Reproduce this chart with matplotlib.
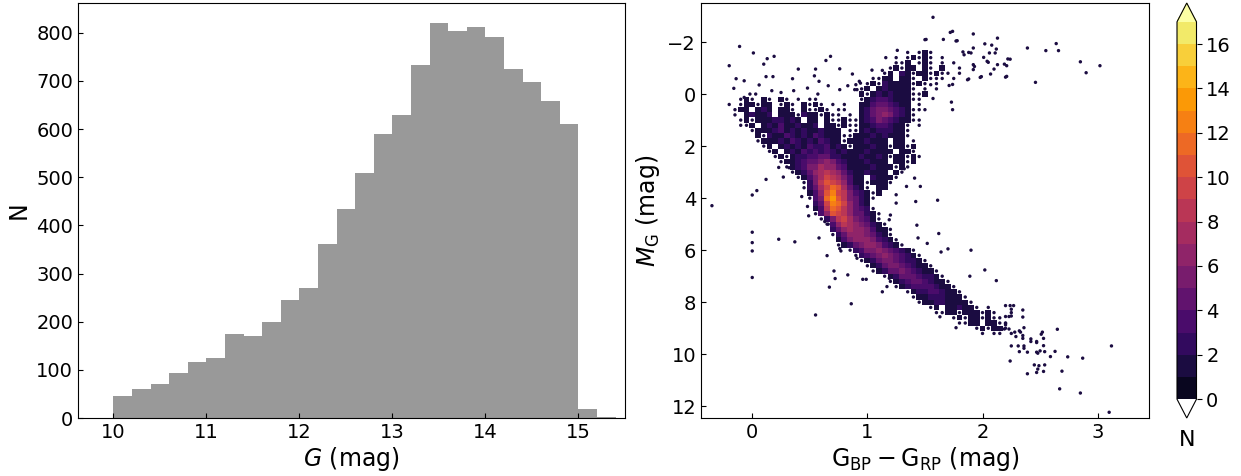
import numpy as np
import matplotlib
matplotlib.use("Agg")
import matplotlib.pyplot as plt
from matplotlib.colors import BoundaryNorm

# ================= DATA =================

# histogram of apparent G magnitude (bin left edges, 0.2 mag wide)
g_bin_left = [9.8, 10.0, 10.2, 10.4, 10.6, 10.8, 11.0, 11.2, 11.4, 11.6,
              11.8, 12.0, 12.2, 12.4, 12.6, 12.8, 13.0, 13.2, 13.4, 13.6,
              13.8, 14.0, 14.2, 14.4, 14.6, 14.8, 15.0, 15.2]
g_counts = [1, 45, 61, 70, 94, 116, 125, 175, 170, 199,
            246, 271, 362, 434, 508, 589, 629, 733, 820, 803,
            813, 791, 724, 698, 658, 611, 19, 2]
g_bin_width = 0.2

# CMD density map
# columns start at BP-RP = -0.25 and step 0.05, '|' every 4 columns
# rows start at M_G = -1.6 and step 0.2
# ' ' empty, '.' a lone star, 1-9 / a-h = N of 1..17
cmd_c_first = -0.25
cmd_c_step = 0.05
cmd_mg_first = -1.6
cmd_mg_step = 0.2
cmd_rows = [
    "    |    |    |    |    |    |    |    |. .1|.   ",
    "    |    |    |    |    |    |    |  . |.1.1|. . ",
    "    |    |    |    |    |    |    |  ..|1 .1|. . |.   ",
    "    |    |    |    |    |    |    | .1.|11 1|. 1 | .  ",
    "    |    |    |    |    |    |    |.1 2|1.11|.1..| .  ",
    "    |    |    |    |    |    |  ..|11 1|1. 1|... |.   ",
    "    |    |    |    |    |    | .1.|2111|1.1.| .  ",
    "    |    |    |    |    |    |.1 1|2111|1. .| .  ",
    "    |    |    |    |    |    |1.12|1211|1..1",
    "   .|1. 1|. 1.| . .|.   |    |.123|3211|1.. ",
    " . .|11.1|1 .1|. 1.|1. .| .  |1134|4321|1 . ",
    "  .1|1 12|1 11|. 1.|.1. |..  |1245|5432|1...",
    "  . |1211|2 11|1.21|1.1.|. . |1245|6532|1.  ",
    "   .|1.11|1221|21 1|1 1.|.1..|1235|4321|1.. ",
    "   .|.1 1|2131|1211|2 11|.1..|1123|3211|. . ",
    "    | .11|1231|2121|1211|1 ..|1212|2211|.   ",
    "    |  1.|2113|2121|3211|1..1|1121|2111|.   ",
    "    |  .1|1121|3212|1321|1.11|1211|1 11| .  ",
    "    |   .|1 12|1213|2231|21.1|1121|1.11|.1  ",
    "    |    |.1 1|2132|3232|1211|1211|11 1|1.  ",
    "    |    | .1.|1223|3442|2111|2112|1.11|.1. ",
    "    |    |  .1|1234|4565|3211|1211|1 11|.1  ",
    "    |    |   .|1235|5766|4311|1121|11.1|.   ",
    "    |    |    |.124|6787|6421|1211|1 1.",
    "    |    |    | .13|5798|7531|1 21|11. ",
    "    |    |    |  .2|58a9|8631|1.11|1.  ",
    "    |    |    |  .2|479b|a742|1. 1|1   ",
    "    |    |    |   1|36ac|9853|21.1",
    "    |    |    |   .|35bd|a854|21. ",
    "    |    |    |    |249c|b964|21  ",
    "    |    |    |    |138b|a864|32. ",
    "    |    |    |    |.36a|9864|421.",
    "    |    |    |    | .25|8975|431.",
    "    |    |    |    |  .3|6876|5421|.   ",
    "    |    |    |    |   2|4676|6531|1.  ",
    "    |    |    |    |   .|2466|6542|1.  ",
    "    |    |    |    |    |1356|6653|21. ",
    "    |    |    |    |    |.124|5665|321.",
    "    |    |    |    |    |  .2|3556|5432|1.  ",
    "    |    |    |    |    |   .|2345|6543|21. ",
    "    |    |    |    |    |    |.124|5543|221.",
    "    |    |    |    |    |    | .12|4554|3211|.   ",
    "    |    |    |    |    |    |  .1|2445|4321|1.  ",
    "    |    |    |    |    |    |    |.124|4432|21. ",
    "    |    |    |    |    |    |    | .12|3443|211.",
    "    |    |    |    |    |    |    |  .1|2333|3211|.   ",
    "    |    |    |    |    |    |    |    |.122|3321|1.  ",
    "    |    |    |    |    |    |    |    | .11|2221|11. ",
    "    |    |    |    |    |    |    |    |  .1|1221|111.",
    "    |    |    |    |    |    |    |    |    |.1 1|1211|. . ",
    "    |    |    |    |    |    |    |    |    | ..1|1.11|1.1.",
    "    |    |    |    |    |    |    |    |    |    |.1.1|1.1.|.   ",
    "    |    |    |    |    |    |    |    |    |    | ..1|1 11|..  ",
    "    |    |    |    |    |    |    |    |    |    |    |.1.1|1.  ",
    "    |    |    |    |    |    |    |    |    |    |    | . .|. . ",
]

# isolated stars outside the dense part (BP-RP, M_G)
lone_bprp = [-0.11, -0.20, 0.01, 0.19, 0.13, 0.10, -0.14, -0.07, -0.16, 0.40,
             0.55, 0.64, 0.68, 0.76, 0.35, 0.48, 0.54, 0.58, 0.87, 0.93,
             0.83, 0.76, 0.89, 0.91, 0.66, 0.57, 0.36, 0.25, 0.17, 0.06,
             0.12, 0.18, -0.07, -0.02, 0.03,
             1.57, 1.74, 1.72, 1.51, 1.66, 1.78, 1.92, 2.13, 1.26, 1.16,
             1.92, 2.02, 2.08, 2.12, 2.01, 2.05, 2.21, 2.24, 2.10, 2.13,
             2.21, 2.07, 1.99, 1.88, 1.93, 1.84, 1.88, 1.74, 1.71, 1.73,
             1.74, 0.94, 0.90, 1.04, 1.13, 1.55, 1.50, 1.77, 1.83, 1.90,
             2.06, 2.11, 2.04, 2.22, 2.19, 1.92, 1.92, 1.98, 2.20, 1.87,
             2.39, 2.55, 2.64, 2.66, 2.85, 2.90, 3.02, 2.46, 1.57,
             1.40, 1.32, 1.41, 1.34, 1.46, 1.25, 1.42, 1.61, 1.43, 1.62,
             1.44, 1.52, 1.70, 1.90, 1.64, 2.02, 2.12, 1.89, 1.19, 1.20,
             1.25,
             -0.35, 0.00, 0.00, 0.00, 0.00, 0.00, 0.04, 0.12, 0.23, 0.27,
             0.23, 0.37, 0.43, 0.48, 0.49, 0.58, 0.55, 0.86, 0.65, 0.67,
             0.71, 0.72, 0.83, 0.77, 0.91, 0.96, 0.99, 1.13, 1.17, 1.19,
             0.76, 0.63, 0.66, 0.32, 1.63, 1.77,
             2.20, 2.24, 2.27, 2.25, 2.25, 2.35, 2.20, 2.23, 2.25, 2.35,
             2.20, 2.20, 2.19, 2.23, 2.32, 2.33, 2.36, 2.28, 2.29, 2.35,
             2.35, 2.25, 2.31, 2.36, 2.42, 2.47, 2.42, 2.51, 2.52, 2.53,
             2.47, 2.53, 2.36, 2.39, 2.32, 2.47, 2.48, 2.50, 2.54, 2.59,
             2.63, 2.24, 2.45, 2.49, 2.54, 2.39, 2.47, 2.48, 2.53, 2.65,
             3.12, 2.74, 2.87, 2.69, 2.67, 2.85, 3.10]
lone_mg = [-1.83, -1.09, -1.58, -1.45, -1.36, -1.15, -0.59, -0.51, -0.22, -0.96,
           -0.96, -1.29, -1.45, -0.97, -0.59, -0.23, -0.70, -0.49, -0.77, -0.49,
           -0.32, -0.17, -0.17, -0.17, -0.32, 0.00, -0.13, -0.06, -0.13, -0.35,
           -0.67, -0.67, 0.13, 0.00, 0.00,
           -2.95, -2.41, -2.37, -2.10, -2.10, -2.05, -2.31, -2.15, -1.68, -1.40,
           -1.77, -1.93, -1.88, -1.73, -1.41, -1.22, -1.09, -1.34, -0.96, -1.13,
           -0.68, -0.77, -0.67, -0.58, -1.06, -1.51, -1.60, -0.37, -0.33, 0.31,
           0.60, -0.42, -0.36, -0.92, -0.91, -0.36, -2.09, -2.04, -1.62, -1.58,
           -1.58, -1.58, -1.26, -1.35, -1.15, -1.13, -0.94, -0.64, -0.65, -0.55,
           -1.77, -1.67, -1.94, -1.67, -1.24, -0.82, -1.09, -0.45, 0.17,
           1.99, 2.87, 3.23, 3.55, 3.55, 4.19, 4.13, 4.08, 5.04, 5.36,
           5.53, 5.74, 5.95, 6.00, 6.07, 6.76, 7.17, 7.00, 4.83, 4.65,
           3.87,
           4.29, 5.31, 5.71, 6.03, 7.05, 3.88, 3.71, 3.28, 2.82, 3.19,
           5.58, 5.68, 3.94, 4.32, 4.68, 5.53, 8.49, 8.06, 6.21, 7.42,
           6.80, 7.09, 6.95, 6.03, 6.31, 7.12, 7.12, 7.60, 7.40, 7.08,
           5.94, 4.90, 5.00, 2.83, 8.56, 8.98,
           8.13, 8.13, 8.13, 8.27, 8.40, 8.30, 8.55, 8.55, 8.53, 8.57,
           8.81, 8.87, 9.03, 9.03, 9.10, 9.15, 8.98, 9.15, 9.32, 9.28,
           9.39, 9.68, 9.68, 9.68, 9.41, 9.51, 9.51, 9.23, 9.15, 9.39,
           9.55, 9.67, 9.77, 9.92, 9.90, 9.92, 9.96, 9.87, 9.90, 10.09,
           9.89, 10.26, 10.41, 10.44, 10.41, 10.75, 10.70, 10.57, 10.66, 9.04,
           9.68, 10.10, 10.15, 10.65, 11.33, 11.49, 12.23]

n_levels = list(range(0, 18))
cbar_ticks = [0, 2, 4, 6, 8, 10, 12, 14, 16]

# ================= BUILD MAP =================

rows = [r.replace("|", "") for r in cmd_rows]
ncols = max(len(r) for r in rows)
dens = np.full((len(rows), ncols), np.nan)
dot_c, dot_m = [], []
for i, row in enumerate(rows):
    mg = cmd_mg_first + cmd_mg_step * i
    for k, ch in enumerate(row):
        if ch == " ":
            continue
        if ch == ".":
            dot_c.append(cmd_c_first + cmd_c_step * k)
            dot_m.append(mg)
        else:
            dens[i, k] = int(ch, 18)

c_edges = cmd_c_first + cmd_c_step * (np.arange(ncols + 1) - 0.5)
m_edges = cmd_mg_first + cmd_mg_step * (np.arange(len(rows) + 1) - 0.5)

# ================= PLOT =================

plt.rcParams["font.family"] = "DejaVu Sans"
plt.rcParams["mathtext.fontset"] = "dejavusans"

fig = plt.figure(figsize=(12.41, 4.76), dpi=100)
W, H = 1241, 476
ax1 = fig.add_axes([78 / W, 58 / H, 547 / W, 415 / H])
ax2 = fig.add_axes([701 / W, 58 / H, 448 / W, 415 / H])
cax = fig.add_axes([1177 / W, 58 / H, 19.5 / W, 415 / H])

# left: histogram
ax1.bar(g_bin_left, g_counts, width=g_bin_width, align="edge",
        color="grey", alpha=0.8, linewidth=0)
ax1.set_xlim(9.62, 15.5)
ax1.set_ylim(0, 862)
ax1.set_xticks([10, 11, 12, 13, 14, 15])
ax1.set_yticks(range(0, 900, 100))
ax1.set_xlabel("$G$ (mag)", fontsize=17, labelpad=2)
ax1.set_ylabel("N", fontsize=17, labelpad=4)
ax1.tick_params(direction="in", labelsize=14)

# right: colour-magnitude diagram
cmap = plt.get_cmap("inferno").copy()
cmap.set_under("white")
norm = BoundaryNorm(n_levels, ncolors=cmap.N, extend="both")

mesh = ax2.pcolormesh(c_edges, m_edges, np.ma.masked_invalid(dens),
                      cmap=cmap, norm=norm, shading="flat",
                      edgecolors="none", antialiased=False)
ax2.scatter(dot_c, dot_m, s=6, marker="o", c=[1] * len(dot_c),
            cmap=cmap, norm=norm, linewidths=0)
ax2.scatter(lone_bprp, lone_mg, s=6, marker="o", c=[1] * len(lone_bprp),
            cmap=cmap, norm=norm, linewidths=0)

ax2.set_xlim(-0.445, 3.446)
ax2.set_ylim(12.45, -3.5)
ax2.set_xticks([0, 1, 2, 3])
ax2.set_yticks([-2, 0, 2, 4, 6, 8, 10, 12])
ax2.set_xlabel(r"$\mathrm{G_{BP}-G_{RP}}$ (mag)", fontsize=17, labelpad=2)
ax2.set_ylabel(r"$M_{\mathrm{G}}$ (mag)", fontsize=17, labelpad=4)
ax2.tick_params(direction="in", labelsize=14)

cbar = fig.colorbar(mesh, cax=cax, extend="both", ticks=cbar_ticks)
cbar.ax.minorticks_off()
cbar.ax.tick_params(labelsize=14)
cbar.ax.set_xlabel("N", fontsize=16, labelpad=22)

fig.savefig("out.png", dpi=100)
